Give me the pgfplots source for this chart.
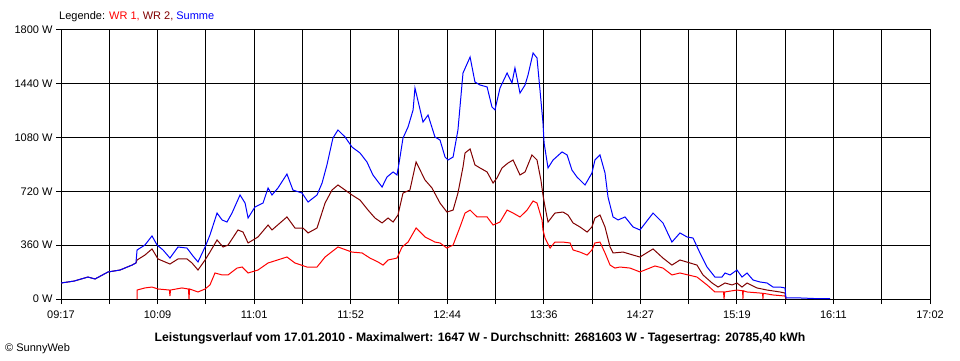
\documentclass[border=0pt]{standalone}
\usepackage{fontspec}
\setmainfont{Liberation Sans}
\usepackage{pgfplots}
\usepackage{pgfplotstable}
\pgfplotsset{compat=1.18}
\definecolor{wra}{RGB}{255,0,0}
\definecolor{wrb}{RGB}{128,0,0}
\definecolor{summe}{RGB}{0,0,255}

% time in minutes after 09:17, power in W
\pgfplotstableread{
t v
0 107
7 120
14.4 147
18.2 134
25.2 181
31.6 194
38.0 227
40.1 241
40.7 328
44.9 361
48.7 422
51.4 361
54.6 328
58.3 274
62.6 348
67.4 341
70.6 288
73.3 248
77.1 348
79.7 428
83.5 575
86.2 529
88.8 515
91.5 575
95.8 696
98.5 642
100.1 542
103.8 616
108.1 642
110.8 743
112.9 696
116.1 743
120.9 836
124.1 729
129.0 709
132.2 649
137.0 696
139.7 776
142.3 897
145.5 1077
148.2 1131
152.0 1084
155.7 1017
160.0 977
163.7 917
166.9 830
171.8 749
174.4 816
177.7 850
179.8 830
180.9 910
183.0 1077
185.7 1151
188.4 1265
189.4 1412
193.7 1184
196.4 1231
200.1 1084
202.8 1064
205.5 950
207.1 930
209.8 950
212.4 1131
215.1 1512
218.9 1619
221.5 1452
224.2 1432
228.0 1419
230.6 1285
232.2 1265
234.9 1412
238.7 1512
241.3 1445
242.9 1546
245.6 1378
248.3 1432
249.9 1499
252.6 1646
254.7 1613
256.3 1398
257.9 1178
258.5 1044
260.6 877
263.3 930
268.1 984
270.8 964
273.4 863
276.1 816
280.4 763
284.1 843
285.7 930
288.4 964
291.1 843
292.7 682
295.4 549
298.1 529
301.8 549
306.1 482
309.8 462
316.8 575
322.1 509
326.9 381
331.2 442
335.0 415
338.2 408
341.9 308
345.7 214
349.9 147
353.7 147
355.3 174
358.0 161
361.7 194
364.4 147
367.1 174
370.3 127
374.0 114
377.8 107
381.0 80
384.7 80
387.4 74
387.9 7
395.4 7
403.5 3
411.5 2
}\summe

\pgfplotstableread{
t v
0 107
7 120
14.4 147
18.2 134
25.2 181
31.6 194
38.0 227
40.1 241
40.7 261
44.9 294
48.7 335
51.9 268
58.3 234
62.6 268
67.4 268
70.1 241
73.3 194
77.1 261
79.7 314
83.5 395
86.7 348
89.4 361
94.7 462
97.4 448
100.1 375
105.4 415
110.8 495
112.9 462
120.9 549
125.2 475
129.5 475
132.2 442
137.0 475
141.3 642
145.0 729
148.2 763
152.0 729
155.7 696
160.0 662
164.3 595
168.0 542
171.8 509
175.0 542
177.7 515
180.3 562
183.0 709
186.7 729
190.0 917
194.8 796
198.5 743
202.8 642
206.5 582
209.8 595
212.4 709
215.1 883
216.2 977
218.9 1004
221.5 897
224.2 877
228.0 850
231.2 776
233.3 810
236.0 877
239.2 910
241.9 930
245.6 830
248.3 850
252.0 964
254.7 930
256.8 796
257.9 696
259.0 616
260.6 515
264.3 575
268.6 582
271.3 562
274.0 509
277.7 482
281.5 448
284.1 482
285.7 542
288.4 562
291.1 482
293.8 348
295.4 308
300.8 314
306.1 294
309.8 281
316.8 335
322.1 274
326.9 227
331.2 261
336.6 241
340.3 227
343.5 161
348.4 107
351.6 80
355.3 107
359.1 94
361.7 107
364.4 80
367.1 107
372.4 74
377.8 60
384.7 47
387.4 40
387.9 0
}\wrzwei

\pgfplotstableread{
t v
40.7 0
40.7 60
44.9 74
48.7 80
51.9 67
58.0 60
58.3 20
58.6 60
64.7 74
68.2 67
68.5 0
68.8 67
73.3 47
77.1 67
79.7 94
82.4 174
86.2 161
89.4 161
94.2 207
96.9 214
100.1 174
105.4 194
110.8 241
120.9 281
125.2 241
131.6 214
137.0 214
141.3 281
148.2 348
155.7 314
161.1 308
165.3 274
169.6 248
172.3 227
175.0 261
179.8 274
182.5 348
185.7 381
190.0 475
194.8 415
200.1 381
202.8 375
206.5 341
209.8 361
213.5 482
216.2 575
218.9 595
222.6 549
228.0 549
231.2 495
234.9 515
238.7 595
241.9 575
245.6 549
249.4 595
252.6 656
254.7 642
257.4 529
257.9 462
259.0 408
261.7 341
264.3 381
268.6 381
272.4 375
274.0 328
277.7 314
281.5 294
284.1 328
285.7 375
288.4 381
291.1 308
293.8 227
296.4 207
299.1 214
304.5 207
309.8 181
317.8 221
322.1 207
326.9 161
331.2 174
340.3 147
345.7 94
349.9 47
354.5 47
354.8 0
355.1 47
361.7 60
364.7 55
364.9 0
365.1 55
367.1 47
374.0 40
375.4 38
375.6 0
375.8 38
381.0 27
387.4 20
387.9 0
}\wreins

\begin{document}
\begin{tikzpicture}[x=1bp,y=1bp]
\path[use as bounding box] (0,0) rectangle (960,360);
\begin{axis}[
  at={(61bp,61bp)}, anchor=south west,
  scale only axis, width=869bp, height=269bp,
  xmin=0, xmax=465, ymin=0, ymax=1800,
  xtick={0,25.8333,51.6667,77.5,103.3333,129.1667,155,180.8333,206.6667,232.5,258.3333,284.1667,310,335.8333,361.6667,387.5,413.3333,439.1667,465},
  xticklabels={09:17,,10:09,,11:01,,11:52,,12:44,,13:36,,14:27,,15:19,,16:11,,17:02},
  ytick={0,360,720,1080,1440,1800},
  yticklabels={0 W,360 W,720 W,1080 W,1440 W,1800 W},
  tick pos=left, tick align=outside, major tick length=5bp,
  every tick/.style={black, line width=1bp},
  axis line style={black, line width=1bp},
  grid=major, grid style={black, line width=1bp},
  ticklabel style={font=\fontsize{11bp}{13bp}\selectfont},
  xticklabel style={yshift=-3bp},
  every axis plot/.append style={line width=1bp},
  clip=true,
]
\addplot[wra, sharp plot] table[x=t,y=v] {\wreins};
\addplot[wrb, sharp plot] table[x=t,y=v] {\wrzwei};
\addplot[summe, sharp plot] table[x=t,y=v] {\summe};
\end{axis}
\node[anchor=west, inner sep=0pt, font=\fontsize{11bp}{13bp}\selectfont] at (59,343) {Legende: \textcolor{wra}{WR 1,} \textcolor{wrb}{WR 2,} \textcolor{summe}{Summe}};
\node[inner sep=0pt, font=\fontsize{12.2bp}{14bp}\selectfont\bfseries] at (480,22) {Leistungsverlauf vom 17.01.2010 - Maximalwert: 1647 W - Durchschnitt: 2681603 W - Tagesertrag: 20785,40 kWh};
\node[anchor=west, inner sep=0pt, font=\fontsize{11bp}{13bp}\selectfont] at (5,11) {\textcopyright{} SunnyWeb};
\end{tikzpicture}
\end{document}
